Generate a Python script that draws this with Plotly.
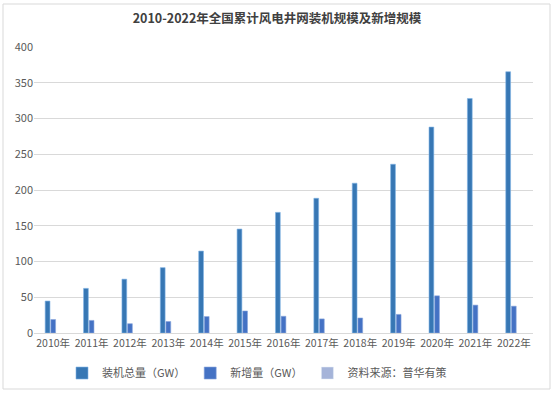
import plotly.graph_objects as go

years = ["2010年", "2011年", "2012年", "2013年", "2014年", "2015年", "2016年",
         "2017年", "2018年", "2019年", "2020年", "2021年", "2022年"]
total_gw = [44.7, 62.4, 75.3, 91.4, 114.6, 145.4, 168.7, 188.4, 209.5, 236.0, 288.0, 328.0, 365.4]
new_gw = [18.9, 17.6, 13.0, 16.1, 23.0, 30.8, 23.4, 19.7, 21.0, 26.0, 52.0, 39.0, 37.5]

FONT = "Noto Sans CJK SC"
L, R, T, B = 34, 21, 47, 61
PW, PH = 554 - L - R, 394 - T - B

fig = go.Figure()
fig.add_trace(go.Bar(x=years, y=total_gw, name="装机总量（GW）",
                     marker=dict(color="#3777b4", line=dict(color="#7fb3e6", width=0.6))))
fig.add_trace(go.Bar(x=years, y=new_gw, name="新增量（GW）",
                     marker=dict(color="#4472c4", line=dict(color="#8aa6dc", width=0.6))))
fig.add_trace(go.Bar(x=years, y=[None] * len(years), name="资料来源：普华有策",
                     marker=dict(color="#a5b4d9")))

fig.update_layout(
    width=554, height=394,
    margin=dict(l=L, r=R, t=T, b=B, autoexpand=False),
    paper_bgcolor="white", plot_bgcolor="white",
    font=dict(family=FONT, size=11, color="#595959"),
    title=dict(text="<b>2010-2022年全国累计风电井网装机规模及新增规模</b>",
               x=0.5, xanchor="center", y=0.952, yanchor="middle",
               font=dict(family=FONT, size=12.5, color="#404040")),
    barmode="group", bargap=0.56, bargroupgap=0.15,
    showlegend=True,
    legend=dict(orientation="h", x=(257 - L) / PW, xanchor="center", y=-0.14, yanchor="middle",
                font=dict(family=FONT, size=11, color="#595959"),
                itemwidth=30, traceorder="normal"),
    shapes=[dict(type="rect", xref="paper", yref="paper",
                 x0=(3 - L) / PW, x1=(550 - L) / PW,
                 y0=(333 - 389) / PH, y1=(333 - 4) / PH,
                 line=dict(color="#d9d9d9", width=1), fillcolor="rgba(0,0,0,0)", layer="below")],
)
fig.update_xaxes(showgrid=False, showline=True, linecolor="#d9d9d9", linewidth=1,
                 tickfont=dict(size=10.5, color="#595959"), ticks="", automargin=False)
fig.update_yaxes(range=[0, 400], dtick=50, showgrid=True, gridcolor="#d9d9d9", gridwidth=1,
                 zeroline=False, showline=False, ticks="", automargin=False,
                 tickfont=dict(size=11, color="#595959"))

fig.write_html("out.html", config={"displayModeBar": False},
               post_script="document.body.style.margin='0';document.body.style.overflow='hidden';")
